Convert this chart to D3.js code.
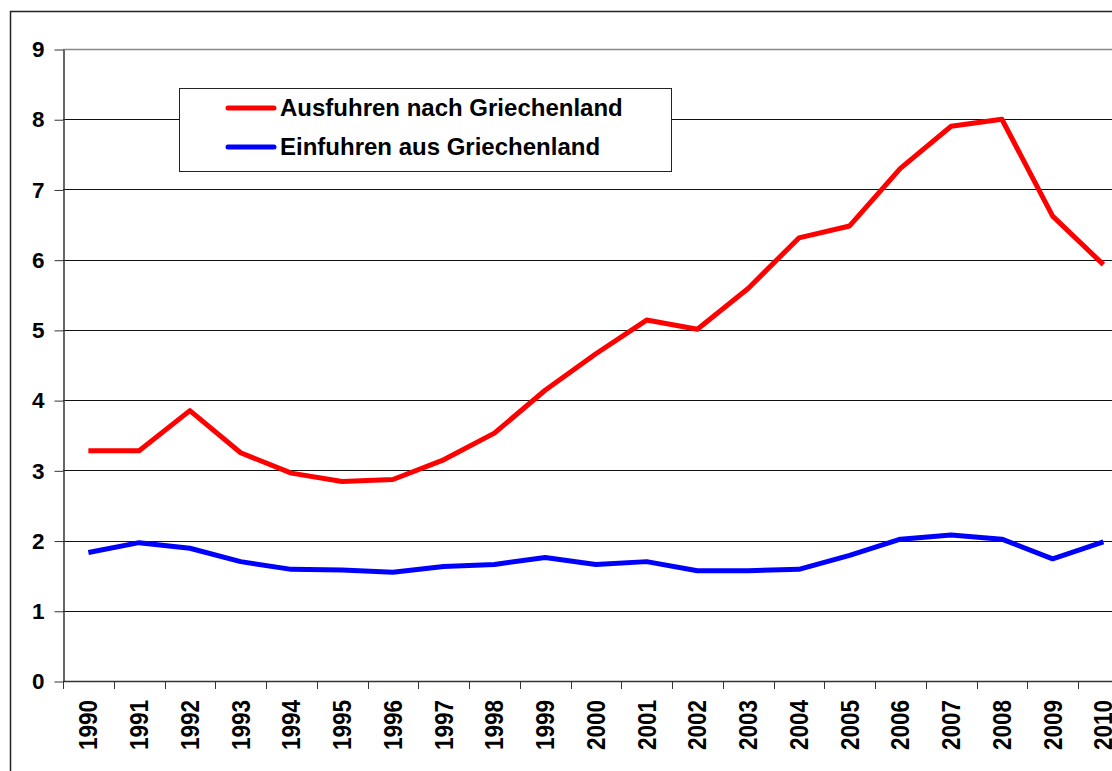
<!DOCTYPE html>
<html>
<head>
<meta charset="utf-8">
<script src="https://cdn.jsdelivr.net/npm/d3@7"></script>
<style>
  html, body { margin: 0; padding: 0; background: #fff; }
  svg { display: block; font-family: "Liberation Sans", Arial, sans-serif; }
</style>
</head>
<body>
<div id="chart"></div>
<script>
// -----------------------------------------------------------------------
// DATA
// -----------------------------------------------------------------------
const years = ['1990', '1991', '1992', '1993', '1994', '1995', '1996', '1997', '1998', '1999',
  '2000', '2001', '2002', '2003', '2004', '2005', '2006', '2007', '2008', '2009', '2010'];

const ausfuhren = [3.28, 3.28, 3.85, 3.25, 2.96, 2.84, 2.87, 3.15, 3.53, 4.14,
  4.66, 5.14, 5.01, 5.59, 6.31, 6.48, 7.30, 7.90, 8.00, 6.62, 5.93];

const einfuhren = [1.83, 1.97, 1.89, 1.70, 1.59, 1.58, 1.55, 1.63, 1.66, 1.76,
  1.66, 1.70, 1.57, 1.57, 1.59, 1.79, 2.02, 2.08, 2.02, 1.74, 1.98];

const yTicks = [0, 1, 2, 3, 4, 5, 6, 7, 8, 9];

const seriesNames = ['Ausfuhren nach Griechenland', 'Einfuhren aus Griechenland'];
const seriesColors = ['#ff0000', '#0000ff'];

// -----------------------------------------------------------------------
// LAYOUT
// -----------------------------------------------------------------------
var width = 1112;
var height = 771;
var plot = { left: 63, top: 49, bottom: 681, bandWidth: 50.75 };
plot.right = plot.left + years.length * plot.bandWidth; // runs past the right edge

var svg = d3.select('#chart').append('svg')
  .attr('width', width)
  .attr('height', height)
  .attr('viewBox', `0 0 ${width} ${height}`);

// outer chart frame (continues beyond the picture on right and bottom)
svg.append('rect')
  .attr('x', 10.5)
  .attr('y', 11.5)
  .attr('width', 1130)
  .attr('height', 800)
  .attr('fill', 'none')
  .attr('stroke', '#222')
  .attr('stroke-width', 1.5);

var xScale = d3.scaleBand()
  .domain(years)
  .range([plot.left, plot.right]);

var yScale = d3.scaleLinear()
  .domain([0, 9])
  .range([plot.bottom, plot.top]);

// -----------------------------------------------------------------------
// GRID + AXES
// -----------------------------------------------------------------------
svg.append('g')
  .selectAll('line')
  .data(yTicks.filter(d => d > 0))
  .join('line')
  .attr('x1', plot.left)
  .attr('x2', plot.right)
  .attr('y1', d => Math.round(yScale(d)) + 0.5)
  .attr('y2', d => Math.round(yScale(d)) + 0.5)
  .attr('stroke', d => d === 9 ? '#888' : '#111')
  .attr('stroke-width', d => d === 9 ? 1.5 : 1);

var yAxis = d3.axisLeft(yScale)
  .tickValues(yTicks)
  .tickSizeInner(9)
  .tickSizeOuter(0)
  .tickPadding(10);

var yG = svg.append('g')
  .attr('transform', `translate(${plot.left + 0.5},0.5)`)
  .call(yAxis);
yG.select('.domain').attr('stroke', '#333').attr('stroke-width', 1.5);
yG.selectAll('.tick line').attr('stroke', '#333');
yG.selectAll('text')
  .attr('font-size', 22.5)
  .attr('font-weight', 'bold')
  .attr('fill', '#000');

// x axis line
svg.append('line')
  .attr('x1', plot.left)
  .attr('x2', plot.right)
  .attr('y1', plot.bottom + 0.5)
  .attr('y2', plot.bottom + 0.5)
  .attr('stroke', '#333')
  .attr('stroke-width', 1.5);

// category ticks sit on the band edges
svg.append('g')
  .selectAll('line')
  .data(years)
  .join('line')
  .attr('x1', d => Math.round(xScale(d)) + 0.5)
  .attr('x2', d => Math.round(xScale(d)) + 0.5)
  .attr('y1', plot.bottom)
  .attr('y2', plot.bottom + 8)
  .attr('stroke', '#333');

// rotated year labels (slightly condensed along the text, like the original)
svg.append('g')
  .selectAll('text')
  .data(years)
  .join('text')
  .attr('transform', d => `translate(${xScale(d) + xScale.bandwidth() / 2},700) rotate(-90) scale(0.9,1)`)
  .attr('dy', '0.36em')
  .attr('text-anchor', 'end')
  .attr('font-size', 25)
  .attr('font-weight', 'bold')
  .attr('fill', '#000')
  .text(d => d);

// -----------------------------------------------------------------------
// LINES
// -----------------------------------------------------------------------
var line = d3.line()
  .x((d, i) => xScale(years[i]) + xScale.bandwidth() / 2)
  .y(d => yScale(d));

[ausfuhren, einfuhren].forEach(function(values, i) {
  svg.append('path')
    .datum(values)
    .attr('d', line)
    .attr('fill', 'none')
    .attr('stroke', seriesColors[i])
    .attr('stroke-width', 5)
    .attr('stroke-linejoin', 'round');
});

// -----------------------------------------------------------------------
// LEGEND
// -----------------------------------------------------------------------
var legend = svg.append('g');
legend.append('rect')
  .attr('x', 179.5)
  .attr('y', 88.5)
  .attr('width', 492)
  .attr('height', 83)
  .attr('fill', '#fff')
  .attr('stroke', '#222');

var rows = [108, 147];
seriesNames.forEach(function(name, i) {
  legend.append('line')
    .attr('x1', 228)
    .attr('x2', 274)
    .attr('y1', rows[i])
    .attr('y2', rows[i])
    .attr('stroke', seriesColors[i])
    .attr('stroke-width', 5)
    .attr('stroke-linecap', 'round');
  legend.append('text')
    .attr('x', 280)
    .attr('y', rows[i] + 8)
    .attr('font-size', 24)
    .attr('font-weight', 'bold')
    .attr('fill', '#000')
    .text(name);
});
</script>
</body>
</html>
